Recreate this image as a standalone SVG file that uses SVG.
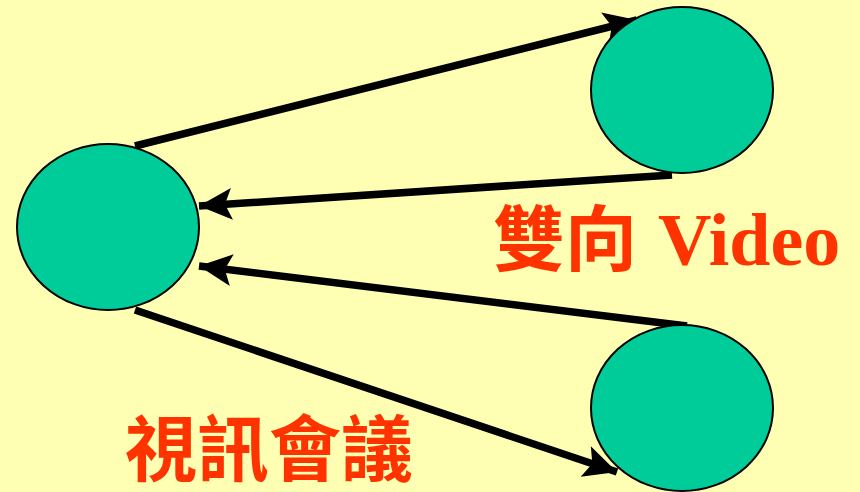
<svg xmlns="http://www.w3.org/2000/svg" width="860" height="492" viewBox="0 0 860 492">
<style>
.node{fill:#00CC99;stroke:#000;stroke-width:2}
.edge{stroke:#000;stroke-width:7.5;fill:none;marker-end:url(#ah)}
.lbl{fill:#FF3300;font-weight:bold;font-size:72px}
.cjk{font-family:"Noto Sans CJK TC","Noto Sans CJK SC",sans-serif}
.lat{font-family:"Liberation Serif",serif;font-size:74px}
</style>
<defs>
<marker id="ah" markerUnits="userSpaceOnUse" markerWidth="40" markerHeight="34" refX="33" refY="16" orient="auto" overflow="visible">
<path d="M0,0 L33,16 L0,32 L7,16 Z" fill="#000"/>
</marker>
</defs>
<rect width="860" height="492" fill="#FFFFB3"/>
<g id="connectors">
<line class="edge" x1="135" y1="146" x2="637" y2="20"/>
<line class="edge" x1="672" y1="175" x2="199" y2="206"/>
<line class="edge" x1="687" y1="326" x2="199" y2="266"/>
<line class="edge" x1="135" y1="310" x2="617" y2="472"/>
</g>
<g id="node-left"><ellipse class="node" cx="108" cy="227" rx="91" ry="83"/></g>
<g id="node-top"><ellipse class="node" cx="682" cy="90" rx="91" ry="83"/></g>
<g id="node-bottom"><ellipse class="node" cx="682" cy="408" rx="91" ry="83"/></g>
<g id="label-video"><text class="lbl" x="493" y="265"><tspan class="cjk">雙向</tspan><tspan class="lat" x="658">Video</tspan></text></g>
<g id="label-conf"><text class="lbl cjk" x="125" y="475">視訊會議</text></g>
</svg>
